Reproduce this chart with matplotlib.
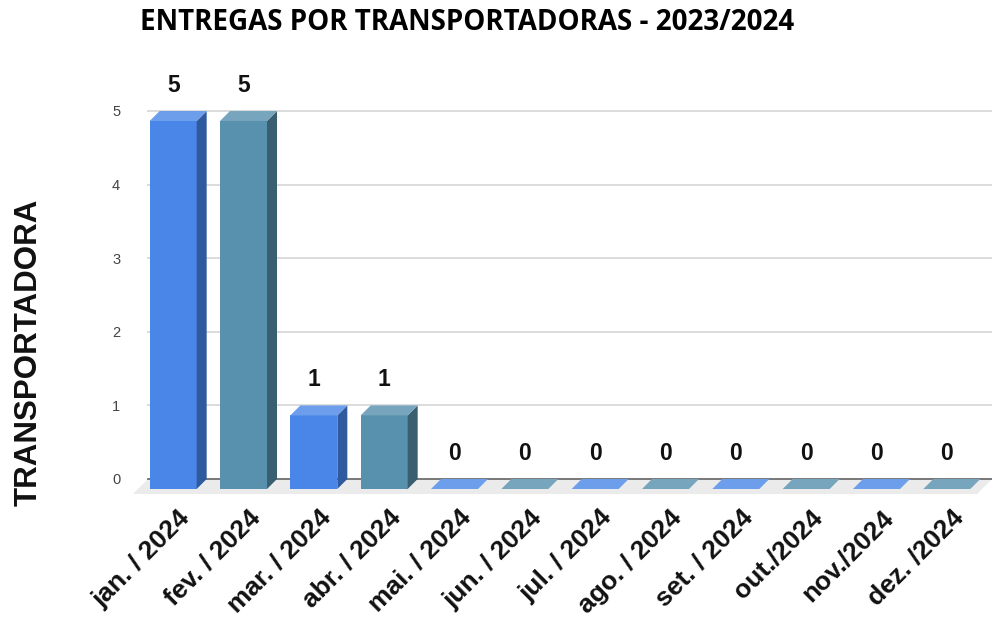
import matplotlib
matplotlib.use("Agg")
import matplotlib.pyplot as plt
from matplotlib.patches import Polygon

categories = ["jan. / 2024", "fev. / 2024", "mar. / 2024", "abr. / 2024", "mai. / 2024",
              "jun. / 2024", "jul. / 2024", "ago. / 2024", "set. / 2024", "out./2024",
              "nov./2024", "dez. /2024"]
values = [5, 5, 1, 1, 0, 0, 0, 0, 0, 0, 0, 0]
yticks = [0, 1, 2, 3, 4, 5]

title = "ENTREGAS POR TRANSPORTADORAS - 2023/2024"
ylabel = "TRANSPORTADORA"

# colours (front, top, side) alternating
palettes = [("#4a86e8", "#6d9eeb", "#2f5a9e"),
            ("#5891ad", "#76a5bd", "#3a5f71")]

W, H = 992, 621
fig = plt.figure(figsize=(W / 100, H / 100), dpi=100)
ax = fig.add_axes([148 / W, 1 - 479 / H, 844 / W, 368 / H])
xmin, xmax = -0.5, 11.5
ax.set_xlim(xmin, xmax)
ax.set_ylim(0, 5)

px_x = 844 / (xmax - xmin)   # pixels per category
px_y = 368 / 5               # pixels per unit
dx, dy = -10 / px_x, -10 / px_y     # bar depth offset
fdx, fdy = -15 / px_x, -15 / px_y   # floor depth
bw = 47 / px_x

for s in ax.spines.values():
    s.set_visible(False)

# gridlines
for t in yticks[1:]:
    ax.axhline(t, color="#dcdcdc", lw=1.4, zorder=0.5, clip_on=False)

# floor
floor = Polygon([(xmin, 0), (xmax, 0), (xmax + fdx, fdy), (xmin + fdx, fdy)],
                closed=True, facecolor="#ebebeb", edgecolor="none", zorder=1, clip_on=False)
ax.add_patch(floor)
ax.axhline(0, color="#6e6e6e", lw=1.3, zorder=1.5, clip_on=False)

xs = list(range(len(categories)))
for i, v in zip(xs, values):
    front, top, side = palettes[i % 2]
    l, r = i - bw / 2, i + bw / 2
    ax.bar(i + dx, v, width=bw, bottom=dy, color=front, zorder=3, clip_on=False, linewidth=0)
    ax.add_patch(Polygon([(r + dx, dy), (r, 0), (r, v), (r + dx, v + dy)], closed=True,
                         facecolor=side, edgecolor="none", zorder=3, clip_on=False))
    ax.add_patch(Polygon([(l + dx, v + dy), (r + dx, v + dy), (r, v), (l, v)], closed=True,
                         facecolor=top, edgecolor="none", zorder=3.5, clip_on=False))
    ax.annotate(str(v), xy=(i + dx, v), xytext=(0, 26), textcoords="offset pixels",
                ha="center", va="center", fontsize=16.5, fontweight="bold",
                family="Liberation Sans", color="#111111", zorder=5)

ax.set_xticks([i - 0.08 for i in xs])
ax.set_xticklabels(categories, rotation=45, ha="right", rotation_mode="anchor",
                   fontsize=19, fontweight="bold", family="Liberation Sans", color="#111111")
ax.tick_params(axis="x", length=0, pad=19)

ax.set_yticks(yticks)
ax.set_yticklabels([str(t) for t in yticks], fontsize=10.5, family="Liberation Sans", color="#444444")
ax.tick_params(axis="y", length=0, pad=20)

fig.text(467 / W, 1 - 22 / H, title, ha="center", va="center", fontsize=20,
         fontweight="bold", family="Open Sans", color="#000000")
fig.text(28.5 / W, 1 - 352 / H, ylabel, ha="center", va="center", rotation=90,
         fontsize=22.5, fontweight="bold", family="Liberation Sans", color="#111111")

fig.savefig("out.png", dpi=100)
